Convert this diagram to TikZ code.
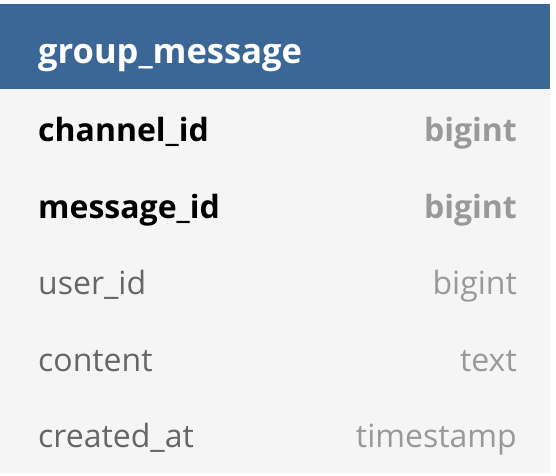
\documentclass[tikz,border=0pt]{standalone}
\usepackage{fontspec}
\setmainfont{Open Sans}
\usetikzlibrary{positioning}
\definecolor{headblue}{HTML}{3B6797}
\definecolor{bodygray}{HTML}{F5F5F5}
\definecolor{namegray}{HTML}{666666}
\definecolor{typegray}{HTML}{999999}

\begin{document}
\begin{tikzpicture}[x=1pt,y=1pt,inner sep=0pt,
  title/.style={anchor=base west,text=white,font=\fontsize{34.5}{40}\selectfont\bfseries},
  field/.style={anchor=base west,text=namegray,font=\fontsize{32}{36}\selectfont},
  keyfield/.style={field,text=black,font=\fontsize{32}{36}\selectfont\bfseries},
  ftype/.style={anchor=base east,text=typegray,font=\fontsize{32}{36}\selectfont},
  keytype/.style={ftype,font=\fontsize{32}{36}\selectfont\bfseries}]
\useasboundingbox (0,0) rectangle (556,-475);
\fill[white] (0,0) rectangle (556,-475);
% table body and header
\fill[bodygray] (0,-89) rectangle (550,-473);
\fill[headblue] (0,-4) rectangle (550,-89);
\node[title] (tname) at (38,-63) {group\_message};
% columns
\node[keyfield] (channel) at (38,-141) {channel\_id};
\node[keytype] (channelT) at (517,-141) {bigint};
\node[keyfield] (message) at (38,-218) {message\_id};
\node[keytype] (messageT) at (517,-218) {bigint};
\node[field] (user) at (38,-294) {user\_id};
\node[ftype] (userT) at (517,-294) {bigint};
\node[field] (content) at (38,-371) {content};
\node[ftype] (contentT) at (517,-371) {text};
\node[field] (created) at (38,-447) {created\_at};
\node[ftype] (createdT) at (517,-447) {timestamp};
\end{tikzpicture}
\end{document}
